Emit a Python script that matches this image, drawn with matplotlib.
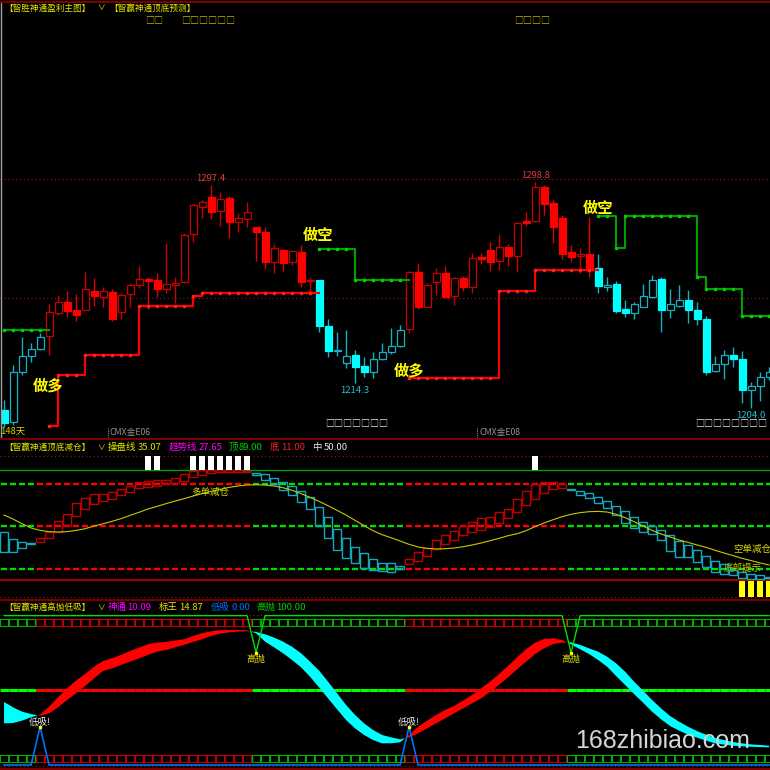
import matplotlib
matplotlib.use("Agg")
import matplotlib.pyplot as plt
from matplotlib.patches import Rectangle
from matplotlib.lines import Line2D
import numpy as np

plt.rcParams["font.family"] = ["Noto Sans CJK SC", "DejaVu Sans"]

W = H = 770  # output size in px

# =========================
# 1. Data
# =========================
# main chart candles (price)
opens = [1203.0, 1198.1, 1219.1, 1225.7, 1228.5, 1234.1, 1243.9, 1248.4, 1244.9, 1245.0,
         1253.1, 1250.6, 1252.7, 1244.3, 1251.6, 1255.4, 1258.0, 1257.6, 1253.7, 1255.4,
         1256.8, 1276.9, 1288.1, 1292.6, 1286.7, 1291.9, 1282.1, 1283.1, 1280.0, 1277.8,
         1265.3, 1270.2, 1265.0, 1269.5, 1257.2, 1257.6, 1238.4, 1227.8, 1222.6, 1226.1,
         1221.6, 1218.8, 1224.3, 1227.5, 1230.0, 1236.9, 1261.1, 1246.4, 1256.9, 1260.4,
         1250.9, 1258.3, 1254.8, 1267.4, 1270.2, 1265.6, 1271.6, 1267.8, 1282.5, 1282.4,
         1296.8, 1289.8, 1283.5, 1269.5, 1267.7, 1268.4, 1262.5, 1254.8, 1255.8, 1245.3,
         1243.6, 1246.1, 1250.6, 1257.9, 1245.0, 1246.8, 1249.2, 1245.0, 1241.2, 1219.5,
         1222.3, 1226.0, 1224.3, 1211.4, 1213.2, 1216.7]
highs = [1207.2, 1221.9, 1233.8, 1231.3, 1235.2, 1247.5, 1251.3, 1253.1, 1251.7, 1260.8,
         1258.3, 1254.5, 1253.7, 1252.3, 1256.2, 1263.6, 1259.0, 1260.7, 1273.0, 1258.7,
         1277.5, 1289.8, 1291.2, 1297.4, 1294.7, 1292.9, 1285.6, 1290.2, 1280.0, 1280.0,
         1272.7, 1270.8, 1270.2, 1272.4, 1258.7, 1257.6, 1241.1, 1235.9, 1236.6, 1228.2,
         1225.4, 1227.5, 1231.0, 1237.3, 1238.7, 1261.4, 1264.6, 1256.2, 1262.5, 1263.6,
         1259.0, 1259.3, 1269.1, 1268.8, 1273.7, 1276.9, 1272.7, 1282.1, 1286.3, 1298.8,
         1297.5, 1291.2, 1284.9, 1272.3, 1270.9, 1284.2, 1268.4, 1258.7, 1257.2, 1249.2,
         1248.5, 1255.9, 1259.7, 1259.0, 1253.7, 1255.5, 1253.4, 1248.2, 1242.5, 1225.8,
         1228.2, 1229.3, 1227.9, 1214.8, 1219.1, 1221.2]
lows = [1196.0, 1196.7, 1217.7, 1223.3, 1228.2, 1226.1, 1242.9, 1242.2, 1240.5, 1245.0,
        1246.7, 1246.4, 1240.5, 1241.1, 1246.4, 1254.1, 1245.3, 1250.6, 1252.0, 1247.8,
        1256.2, 1273.7, 1283.5, 1283.1, 1280.3, 1275.1, 1277.9, 1279.7, 1265.7, 1262.4,
        1260.4, 1261.5, 1263.9, 1254.8, 1252.0, 1235.9, 1225.1, 1225.7, 1220.5, 1214.3,
        1217.0, 1216.3, 1224.0, 1226.4, 1229.6, 1235.5, 1245.3, 1246.1, 1251.3, 1250.3,
        1247.1, 1253.1, 1252.3, 1264.3, 1261.5, 1261.8, 1263.5, 1261.1, 1280.3, 1282.1,
        1284.9, 1273.3, 1266.3, 1265.3, 1260.4, 1259.0, 1252.3, 1253.1, 1243.9, 1241.9,
        1241.1, 1246.1, 1249.9, 1235.9, 1241.5, 1246.1, 1239.4, 1238.7, 1217.7, 1219.1,
        1215.9, 1221.2, 1205.8, 1204.0, 1206.9, 1215.6]
closes = [1197.4, 1219.1, 1225.7, 1228.5, 1233.5, 1244.3, 1248.4, 1244.7, 1242.9, 1254.0,
          1250.9, 1253.1, 1241.1, 1251.3, 1255.4, 1257.9, 1257.3, 1253.7, 1255.9, 1256.2,
          1276.4, 1289.1, 1290.2, 1286.3, 1291.5, 1282.1, 1283.5, 1286.0, 1277.8, 1265.3,
          1270.9, 1264.9, 1269.6, 1256.9, 1257.6, 1238.3, 1227.8, 1228.2, 1225.7, 1220.9,
          1218.8, 1224.6, 1227.5, 1230.0, 1236.6, 1261.1, 1246.4, 1255.5, 1260.4, 1250.6,
          1258.6, 1254.8, 1266.7, 1266.3, 1265.3, 1271.3, 1267.8, 1281.4, 1281.4, 1296.5,
          1289.5, 1280.0, 1268.5, 1267.4, 1268.4, 1261.8, 1255.2, 1255.4, 1244.7, 1243.6,
          1247.4, 1251.0, 1257.6, 1245.0, 1247.4, 1249.2, 1245.0, 1241.2, 1219.1, 1222.3,
          1226.0, 1224.3, 1211.4, 1213.2, 1216.7, 1219.1]

# 1 = long (red candles), 0 = short (cyan candles)
long_state = [0] * 5 + [1] * 30 + [0] * 10 + [1] * 21 + [0] * 20

# trailing stop lines
red_stop = ([None] * 5 + [1196.2] + [1217.6] * 3 + [1226.1] * 6 + [1246.6] * 6 + [1251.0]
            + [1252.1] * 13 + [None] * 10 + [1216.4] * 10 + [1253.1] * 4 + [1262.0] * 7
            + [None] * 20)
green_stop = ([1236.4] * 5 + [None] * 30 + [1270.5] * 4 + [1257.6] * 6 + [None] * 21
              + [1284.6] * 2 + [1270.9] + [1284.4] * 8 + [1258.9] + [1253.6] * 4 + [1242.4] * 4)

# panel 2: top/bottom reduce-position oscillator
box_lo = [26.5, 25.9, 29.6, 33.6, 35.8, 38.8, 44.4, 50.5, 59.7, 65.9,
          70.2, 73.5, 75.1, 78.8, 81.2, 84.9, 86.4, 87.4, 88.6, 89.5,
          91.7, 95.7, 97.2, 98.7, 100.3, 100.3, 99.7, 99.7, 97.2, 92.6,
          88.6, 83.4, 78.8, 72.6, 65.9, 50.5, 38.8, 28.1, 20.4, 15.8,
          11.2, 9.6, 8.7, 8.1, 10.6, 15.2, 18.2, 22.5, 29.0, 33.3,
          37.3, 41.9, 44.4, 46.5, 49.5, 52.7, 57.3, 62.8, 69.6, 74.8,
          80.3, 84.3, 84.9, 83.5, 78.8, 76.3, 71.1, 66.5, 60.3, 52.7,
          48.7, 44.4, 42.5, 37.3, 27.2, 21.9, 21.9, 16.7, 12.7, 8.1,
          5.6, 5.0, 1.9, 1.3, 1.3, 1.9]
box_hi = [44.4, 37.9, 35.8, 34.8, 39.4, 45.0, 54.8, 61.0, 71.1, 76.3,
          79.4, 79.4, 81.2, 84.3, 87.4, 90.4, 92.0, 92.3, 93.0, 94.1,
          97.8, 100.9, 101.5, 101.8, 101.8, 101.8, 101.5, 101.2, 98.7, 97.8,
          94.1, 91.1, 87.4, 82.4, 77.2, 68.0, 58.8, 47.4, 39.4, 31.1,
          25.0, 19.8, 15.8, 15.8, 13.3, 19.8, 25.9, 30.0, 37.0, 42.0,
          45.5, 50.0, 53.6, 57.3, 58.5, 62.8, 65.9, 74.8, 82.4, 88.6,
          91.1, 90.4, 88.6, 84.3, 82.4, 80.3, 77.2, 73.6, 68.9, 64.0,
          58.8, 54.2, 50.5, 46.5, 41.9, 36.4, 32.7, 28.1, 22.9, 17.9,
          14.9, 9.6, 8.1, 5.6, 5.0, 3.4]
trend_line = [60.3, 56.6, 52.3, 48.4, 46.2, 45.0, 44.7, 45.0, 46.2, 47.7,
              50.2, 52.3, 54.5, 57.0, 60.0, 62.8, 65.9, 68.3, 70.8, 73.2,
              75.4, 77.8, 80.0, 82.1, 84.0, 85.8, 87.1, 88.0, 88.3, 88.0,
              87.1, 85.5, 83.1, 80.0, 76.6, 72.9, 68.9, 64.6, 60.3, 55.4,
              50.5, 45.9, 42.2, 39.4, 36.4, 33.3, 30.9, 29.6, 29.0, 29.3,
              29.9, 31.1, 32.7, 34.5, 36.7, 38.8, 41.3, 43.1, 45.9, 49.6,
              53.0, 56.0, 58.8, 61.0, 62.5, 63.4, 63.7, 63.1, 61.0, 57.9,
              54.2, 50.2, 46.2, 42.8, 40.1, 37.3, 35.1, 32.7, 30.5, 27.8,
              25.3, 22.9, 20.4, 18.3, 16.1, 14.3]
# 1 = rising phase (red), 0 = falling phase
rise_state = [0] * 4 + [1] * 24 + [0] * 17 + [1] * 18 + [0] * 23
levels = [89, 50, 11]
top_signal_bars = [16, 17, 21, 22, 23, 24, 25, 26, 27, 59]
bottom_signal_bars = [82, 83, 84, 85]

# panel 3: high sell / low buy
shentong = [27.9, 28.1, 29.7, 31.9, 33.7, 39.0, 45.3, 51.3, 56.5, 60.9,
            65.8, 69.6, 71.4, 73.7, 76.3, 78.6, 80.8, 81.9, 82.4, 83.3,
            84.2, 86.4, 88.2, 89.5, 90.2, 90.4, 90.4, 90.2, 88.2, 82.6,
            78.8, 74.8, 70.3, 65.4, 59.1, 52.0, 44.6, 37.3, 30.1, 24.5,
            20.1, 16.7, 14.5, 14.5, 15.2, 20.1, 25.6, 29.7, 33.5, 36.8,
            39.5, 43.1, 46.9, 51.3, 55.8, 60.9, 66.3, 72.1, 77.5, 81.9,
            84.4, 84.8, 83.7, 80.8, 77.5, 74.3, 70.3, 65.8, 59.6, 53.6,
            47.5, 41.7, 35.7, 30.6, 26.1, 23.0, 20.3, 18.3, 16.3, 14.5,
            13.6, 12.9, 12.5, 12.2, 12.0, 11.8]
biaowang = [42.2, 38.6, 35.7, 34.1, 33.0, 34.6, 38.6, 43.5, 48.0, 52.9,
            58.0, 62.9, 64.7, 67.0, 69.2, 71.4, 73.7, 75.9, 77.0, 78.8,
            80.4, 82.4, 84.2, 86.4, 87.9, 88.8, 89.3, 89.5, 89.1, 87.5,
            85.3, 82.6, 79.2, 74.8, 69.2, 63.2, 55.8, 48.0, 40.2, 33.5,
            27.9, 23.4, 20.1, 18.5, 17.2, 18.5, 21.2, 24.5, 27.9, 31.2,
            34.6, 37.9, 41.3, 44.6, 49.1, 53.6, 58.7, 64.1, 69.2, 74.3,
            78.1, 81.0, 81.9, 82.1, 80.4, 78.1, 75.9, 72.5, 68.1, 62.5,
            55.8, 49.8, 43.5, 37.9, 32.8, 29.0, 25.6, 22.7, 20.3, 18.1,
            16.7, 15.4, 14.5, 13.8, 13.4, 12.9]
gaopao_dips = {28: 75.2, 63: 75.2}   # high-sell line, 100 otherwise
dixi_peaks = {4: 25.6, 45: 25.6}     # low-buy line, 0 otherwise

bar = np.arange(len(opens))
red_stop = np.array(red_stop, dtype=float)
green_stop = np.array(green_stop, dtype=float)

# =========================
# Configure figure
# =========================
fig = plt.figure(figsize=(W / 100, H / 100), dpi=100, facecolor="black")


def panel(top, bottom, ylim):
    ax = fig.add_axes([0, 1 - bottom / H, 1, (bottom - top) / H])
    ax.set_xlim(-0.45, 85.1)
    ax.set_ylim(*ylim)
    ax.axis("off")
    return ax


def fig_text(x, y, s, color, size=6.8, **kw):
    fig.text(x / W, 1 - y / H, s, color=color, fontsize=size,
             ha="left", va="center", **kw)


def sep(y, color="#7a0000", lw=1.5, ls="-"):
    fig.add_artist(Line2D([0, 1], [1 - y / H] * 2, color=color, lw=lw, ls=ls))


YEL = "#e6e600"
RED_FILL, RED_EDGE = "#ff0000", "#c80000"
CYAN_FILL, CYAN_EDGE = "#00ffff", "#14b0c4"

# =========================
# (1) Main chart
# =========================
ax1 = panel(2, 438, (1191.2, 1374.4))
for lvl in (1300, 1250):
    ax1.axhline(lvl, color="#a01010", ls=(0, (1, 2.5)), lw=0.8, zorder=1)

for i in bar:
    o, h, l, c = opens[i], highs[i], lows[i], closes[i]
    up = c >= o
    if long_state[i]:
        edge, face, wick = (RED_EDGE, "black", RED_EDGE) if up else (RED_FILL, RED_FILL, "#e00000")
    else:
        edge, face, wick = (CYAN_EDGE, "black", CYAN_EDGE) if up else (CYAN_FILL, CYAN_FILL, CYAN_EDGE)
    ax1.vlines(i, l, h, color=wick, lw=1.0, zorder=2)
    ax1.add_patch(Rectangle((i - 0.39, min(o, c)), 0.78, max(abs(c - o), 0.3),
                            facecolor=face, edgecolor=edge, lw=0.9, zorder=3))

ax1.plot(bar, red_stop, drawstyle="steps-post", color="#ff0000", lw=1.6, zorder=4)
ax1.plot(bar, red_stop, ls="none", marker="s", ms=2.0, color="#ff2020", zorder=5)
ax1.plot(bar, green_stop, drawstyle="steps-post", color="#00a000", lw=1.5, zorder=4)
ax1.plot(bar, green_stop, ls="none", marker="s", ms=2.0, color="#00d000", zorder=5)

# high / low labels
for lo, hi in ((5, 35), (45, 66)):
    k = lo + int(np.argmax(highs[lo:hi]))
    ax1.annotate(f"{highs[k]:.1f}", (k, highs[k]), xytext=(0, 1.5), textcoords="offset points",
                 ha="center", va="bottom", color="#e03c3c", fontsize=6.8)
for lo, hi in ((35, 45), (66, 86)):
    k = lo + int(np.argmin(lows[lo:hi]))
    ax1.annotate(f"{lows[k]:.1f}", (k, lows[k]), xytext=(0, -2.5), textcoords="offset points",
                 ha="center", va="top", color="#20c4d4", fontsize=6.8)

for x, y, s in ((4.9, 1213.4, "做多"), (45.0, 1219.7, "做多"),
                (34.9, 1276.3, "做空"), (66.0, 1288.0, "做空")):
    ax1.text(x, y, s, color="#ffff00", fontsize=11, fontweight="bold",
             ha="center", va="center", zorder=6)

ax1.vlines([11.55, 52.55], 1191.2, 1195.5, color="#909090", lw=0.8, ls=(0, (1, 1)))
fig.add_artist(Line2D([0.6 / W] * 2, [1 - 438 / H, 1 - 2 / H], color="#a0a0a0", lw=1))

# =========================
# (2) Top / bottom reduce-position panel
# =========================
ax2 = panel(439, 600, (-18.0, 130.4))
ax2.axhline(115, color="#a01010", ls=(0, (1, 2.5)), lw=0.8)
ax2.axhline(101.5, color="#00a000", lw=1.0)
ax2.axhline(0, color="#a00000", lw=1.5)
ax2.axhline(-15, color="#a01010", ls=(0, (1, 2.5)), lw=0.8)

lvl_cols = ["#ff0000" if r else "#00e000" for r in rise_state]
for lvl in levels:
    ax2.hlines([lvl] * len(bar), bar - 0.36, bar + 0.36, colors=lvl_cols, lw=1.7, zorder=2)

ax2.text(82.1, 11.5, "底部提示", color="#c8c800", fontsize=6.8, ha="center", va="center", zorder=2)

for i in bar:
    col = "#c00000" if rise_state[i] else "#10a8bc"
    ax2.add_patch(Rectangle((i - 0.42, box_lo[i]), 0.84, box_hi[i] - box_lo[i],
                            facecolor="none", edgecolor=col, lw=1.0, zorder=3))

ax2.plot(bar, trend_line, color="#c8c800", lw=0.8, zorder=4)
ax2.bar(top_signal_bars, 13.5, bottom=101.5, width=0.72, color="white", zorder=3)
ax2.bar(bottom_signal_bars, -14.5, bottom=-0.5, width=0.72, color="#ffff00", zorder=3)

ax2.text(22.9, 81.5, "多单减仓", color="#d8d800", fontsize=6.8, ha="center", va="center", zorder=5)
ax2.text(83.1, 29.0, "空单减仓", color="#d8d800", fontsize=6.8, ha="center", va="center", zorder=5)

# =========================
# (3) High sell / low buy panel
# =========================
ax3 = panel(601, 770, (-3.35, 109.8))
ax3.axhline(100.5, color="#a01010", ls=(0, (1, 2.5)), lw=0.8, zorder=1)
ax3.axhline(-0.5, color="#a01010", ls=(0, (1, 2.5)), lw=0.8, zorder=1)

box_cols = ["#c00000" if r else "#00b000" for r in rise_state]
for lvl in (95.4, 4.35):
    ax3.scatter(bar, [lvl] * len(bar), marker="s", s=30, facecolors="none",
                edgecolors=box_cols, linewidths=0.8, zorder=2)

mid_cols = ["#ff0000" if r else "#00ff00" for r in rise_state]
ax3.hlines([50] * len(bar), bar - 0.5, bar + 0.5, colors=mid_cols, lw=2.2, zorder=2)

shen = np.array(shentong)
biao = np.array(biaowang)
ax3.fill_between(bar, shen, biao, where=shen >= biao, interpolate=True,
                 color="#ff0000", lw=0, zorder=3)
ax3.fill_between(bar, shen, biao, where=shen <= biao, interpolate=True,
                 color="#00ffff", lw=0, zorder=3)

gaopao = np.array([gaopao_dips.get(i, 100.0) for i in bar])
dixi = np.array([dixi_peaks.get(i, 0.0) for i in bar])
ax3.plot(bar, gaopao, color="#00e000", lw=1.0, zorder=4)
ax3.plot(bar, dixi, color="#0070ff", lw=1.2, zorder=4)

for k, v in gaopao_dips.items():
    ax3.plot(k, v, "s", ms=1.5, color="#ffff00", zorder=5)
    ax3.annotate("高抛", (k, v), xytext=(0, -1.5), textcoords="offset points",
                 ha="center", va="top", color="#e0e000", fontsize=6.8, zorder=6)
for k, v in dixi_peaks.items():
    ax3.plot(k, v, "s", ms=1.5, color="#ffff00", zorder=5)
    ax3.annotate("低吸!", (k, v), xytext=(0, 0), textcoords="offset points",
                 ha="center", va="bottom", color="#e8e8e8", fontsize=6.8, zorder=6)

# =========================
# Frame, titles, texts
# =========================
sep(1.5)
sep(438.8)
sep(599.6)
sep(768.8)

TS = 6.2  # bracket title size
fig_text(4, 8, "【智胜神通盈利主图】", YEL, size=TS)
fig_text(97, 8, "∨", YEL, size=5.5)
fig_text(109, 8, "【智赢神通顶底预测】", YEL, size=TS)
fig_text(145, 19.5, "□□", "#b4b400", size=6.5)
fig_text(181, 19.5, "□□□□□□", "#b4b400", size=6.5)
fig_text(514, 19.5, "□□□□", "#b4b400", size=6.5)

fig_text(0, 431.5, "148天", "#d0d000")
fig_text(110, 433, "CMX金E06", "#909090", size=6.3)
fig_text(479, 433, "CMX金E08", "#909090", size=6.3)
fig_text(325, 422.5, "□□□□□□□", "#e0e0e0", size=6.5)
fig_text(695, 422.5, "□□□□□□□□", "#e0e0e0", size=6.5)

y2 = 447.5
fig_text(4, y2, "【智赢神通顶底减仓】", YEL, size=TS)
fig_text(97, y2, "∨", YEL, size=5.5)
fig_text(108, y2, "操盘线", YEL)
fig_text(138, y2, "35.07", YEL)
fig_text(169, y2, "趋势线", "#ff00ff")
fig_text(199, y2, "27.65", "#ff00ff")
fig_text(229, y2, "顶", "#00d000")
fig_text(239, y2, "89.00", "#00d000")
fig_text(270, y2, "底", "#ff2020")
fig_text(281, y2, "11.00", "#ff2020")
fig_text(312, y2, "中", "#e8e8e8")
fig_text(324, y2, "50.00", "#e8e8e8")

y3 = 607.5
fig_text(4, y3, "【智赢神通高抛低吸】", YEL, size=TS)
fig_text(97, y3, "∨", YEL, size=5.5)
fig_text(108, y3, "神通", "#ff00ff")
fig_text(127, y3, "10.09", "#ff00ff")
fig_text(159, y3, "标王", YEL)
fig_text(179, y3, "14.87", YEL)
fig_text(211, y3, "低吸", "#0070ff")
fig_text(231, y3, "0.00", "#0070ff")
fig_text(256, y3, "高抛", "#00d000")
fig_text(276, y3, "100.00", "#00d000")

fig.text(575 / W, 1 - 748 / H, "168zhibiao.com", color="#d4d4d4", fontsize=18,
         family="Liberation Sans", ha="left", va="baseline")

fig.savefig("out.png", dpi=100, facecolor="black")
